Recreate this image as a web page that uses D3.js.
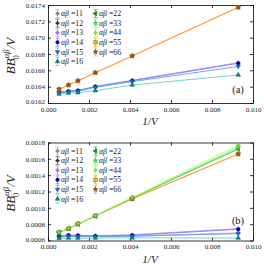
<!DOCTYPE html>
<html>
<head>
<meta charset="utf-8">
<script src="https://cdn.jsdelivr.net/npm/d3@7"></script>
<style>
  body { margin: 0; background: #fff; }
  svg { display: block; font-family: "Liberation Serif", "DejaVu Serif", serif; }
  .axis path, .axis line { stroke: #000; stroke-width: 0.8; }
  .axis text { font-size: 7px; fill: #222; font-family: "Liberation Serif", serif; }
</style>
</head>
<body>
<script>
// x values shared by every series
const invV = [0.00054, 0.001, 0.00146, 0.00231, 0.00411, 0.00928];

const labels = ["11", "12", "13", "14", "15", "16", "22", "33", "44", "55", "66"];

// panel (a) values
const a13 = [0.016334, 0.016346, 0.016355, 0.016404, 0.016479, 0.016694];
const a14 = [0.016331, 0.016343, 0.016351, 0.0164, 0.016473, 0.016686];
const a15 = [0.016325, 0.016336, 0.016344, 0.016392, 0.016462, 0.016648];
const a16 = [0.01631, 0.016322, 0.016326, 0.016351, 0.01642, 0.016543];
const a55 = [0.016368, 0.01642, 0.016471, 0.016571, 0.016776, 0.017372];
const a66 = [0.016368, 0.01642, 0.016471, 0.016571, 0.016776, 0.017372];

// panel (b) values
const b11 = [0.000644, 0.000655, 0.000652, 0.00065, 0.000656, 0.000692];
const b13 = [0.000655, 0.000668, 0.000665, 0.00066, 0.00067, 0.000745];
const b14 = [0.00065, 0.000664, 0.00066, 0.000655, 0.000664, 0.000737];
const b15 = [0.00064, 0.00065, 0.000648, 0.000647, 0.000652, 0.000684];
const b16 = [0.000627, 0.00063, 0.00063, 0.00063, 0.000632, 0.000631];
const b22 = [0.0007, 0.000748, 0.000803, 0.000902, 0.00112, 0.00172];
const b33 = [0.0007, 0.000749, 0.000804, 0.000904, 0.001122, 0.00174];
const b44 = [0.000702, 0.00075, 0.000806, 0.000906, 0.001126, 0.001769];
const b55 = [0.0007, 0.000745, 0.0008, 0.0009, 0.00111, 0.001659];
const b66 = [0.0007, 0.000745, 0.0008, 0.0009, 0.00111, 0.001659];

const xTicks = [0, 0.002, 0.004, 0.006, 0.008, 0.010];
const yTicksA = [0.0162, 0.0164, 0.0166, 0.0168, 0.0170, 0.0172, 0.0174];
const yTicksB = [0.0006, 0.0008, 0.0010, 0.0012, 0.0014, 0.0016, 0.0018];

// style per series
const styles = {
  "11": { line: "#aaaaaa", fill: "#888888", sym: "plus" },
  "12": { line: "#555555", fill: "#333333", sym: "plus" },
  "13": { line: "#b48cff", fill: "#cc66ff", sym: "plus" },
  "14": { line: "#7b7bff", fill: "#0000c8", sym: "circle" },
  "15": { line: "#5aa0e6", fill: "#1a6fd6", sym: "tridown" },
  "16": { line: "#66cccc", fill: "#008b8b", sym: "triup" },
  "22": { line: "#33bb33", fill: "#1a8c1a", sym: "trileft" },
  "33": { line: "#66ee66", fill: "#44ee44", sym: "star" },
  "44": { line: "#aaff55", fill: "#99ee44", sym: "plus" },
  "55": { line: "#f5a030", fill: "#f2c500", sym: "square" },
  "66": { line: "#ff9944", fill: "#b04a00", sym: "star" }
};

const W = 264, H = 267;
const svg = d3.select("body").append("svg").attr("width", W).attr("height", H);

function marker(g, key, x, y, s) {
  let st = styles[key];
  let path, rot = 0;
  if (st.sym == "circle") path = d3.symbol(d3.symbolCircle, s * s * 0.8)();
  else if (st.sym == "square") path = d3.symbol(d3.symbolSquare, s * s * 1.0)();
  else if (st.sym == "star") path = d3.symbol(d3.symbolStar, s * s * 0.6)();
  else if (st.sym == "plus") path = d3.symbol(d3.symbolCross, s * s * 0.5)();
  else {
    path = d3.symbol(d3.symbolTriangle, s * s * 0.7)();
    if (st.sym == "tridown") rot = 180;
    if (st.sym == "trileft") rot = -90;
  }
  g.append("path")
    .attr("d", path)
    .attr("transform", `translate(${x},${y}) rotate(${rot})`)
    .attr("fill", st.fill)
    .attr("stroke", key == "55" ? "#8b5a00" : d3.color(st.fill).darker(0.8))
    .attr("stroke-width", 0.5);
}

function panel(top, bottom, yDomain, yTicks, series, tag) {
  let left = 48, right = 253;
  let x = d3.scaleLinear().domain([0, 0.010]).range([left, right]);
  let y = d3.scaleLinear().domain(yDomain).range([bottom, top]);
  let g = svg.append("g");

  g.append("g").attr("class", "axis").attr("transform", `translate(0,${bottom})`)
    .call(d3.axisBottom(x).tickValues(xTicks).tickSizeInner(-3).tickSizeOuter(0).tickPadding(4).tickFormat(d3.format(".3f")));
  g.append("g").attr("class", "axis").attr("transform", `translate(0,${top})`)
    .call(d3.axisTop(x).tickValues(xTicks).tickSizeInner(-3).tickSizeOuter(0).tickFormat(""));
  g.append("g").attr("class", "axis").attr("transform", `translate(${left},0)`)
    .call(d3.axisLeft(y).tickValues(yTicks).tickSizeInner(-3).tickSizeOuter(0).tickPadding(3).tickFormat(d3.format(".4f")));
  g.append("g").attr("class", "axis").attr("transform", `translate(${right},0)`)
    .call(d3.axisRight(y).tickValues(yTicks).tickSizeInner(-3).tickSizeOuter(0).tickFormat(""));
  g.selectAll(".axis .domain").attr("stroke-width", 1);
  // keep lowest y label clear of the first x label
  g.selectAll(".axis text").filter(d => d === yDomain[0]).attr("dy", "0.1em");

  let line = d3.line().x((d, i) => x(invV[i])).y(d => y(d));
  series.forEach(([key, vals]) => {
    g.append("path").attr("d", line(vals)).attr("fill", "none")
      .attr("stroke", styles[key].line).attr("stroke-width", 0.9);
  });
  series.forEach(([key, vals]) => {
    vals.forEach((v, i) => marker(g, key, x(invV[i]), y(v), 3.6));
  });

  // legend
  let lg = g.append("g");
  labels.forEach((key, i) => {
    let col = i < 6 ? 0 : 1;
    let row = i < 6 ? i : i - 6;
    let mx = col == 0 ? 57.5 : 95.5;
    let my = top + 8.5 + row * 9.6;
    let c = styles[key].line;
    lg.append("line").attr("x1", mx).attr("x2", mx).attr("y1", my - 4).attr("y2", my + 4).attr("stroke", c).attr("stroke-width", 0.7);
    lg.append("line").attr("x1", mx - 2).attr("x2", mx + 2).attr("y1", my - 4).attr("y2", my - 4).attr("stroke", c).attr("stroke-width", 0.7);
    lg.append("line").attr("x1", mx - 2).attr("x2", mx + 2).attr("y1", my + 4).attr("y2", my + 4).attr("stroke", c).attr("stroke-width", 0.7);
    marker(lg, key, mx, my, 3.6);
    let t = lg.append("text").attr("x", mx + 3.5).attr("y", my + 2.6).attr("font-size", 7.8).attr("fill", "#222");
    t.append("tspan").attr("font-style", "italic").text("αβ");
    t.append("tspan").text(" =" + key);
  });

  // axis labels
  let yl = g.append("text")
    .attr("transform", `translate(15,${(top + bottom) / 2 + 2}) rotate(-90)`)
    .attr("text-anchor", "middle").attr("font-size", 13).attr("fill", "#222");
  yl.append("tspan").attr("font-style", "italic").text("BB");
  yl.append("tspan").attr("font-size", 8.5).attr("dy", -6).attr("font-style", "italic").text("αβ");
  yl.append("tspan").attr("font-size", 8.5).attr("dx", -10).attr("dy", 10).text("0");
  yl.append("tspan").attr("dx", 6).attr("dy", -4).attr("font-style", "italic").text("/V");

  g.append("text").attr("x", 150).attr("y", bottom + 22).attr("text-anchor", "middle")
    .attr("font-size", 11).attr("fill", "#222").attr("font-style", "italic").text("1/V");

  g.append("text").attr("x", 238).attr("y", tag == "(a)" ? bottom - 10 : bottom - 17)
    .attr("text-anchor", "middle").attr("font-size", 10.5).attr("fill", "#111").text(tag);
}

panel(5, 103, [0.0162, 0.0174], yTicksA,
  [["13", a13], ["14", a14], ["15", a15], ["16", a16], ["55", a55], ["66", a66]], "(a)");
panel(142.5, 240.5, [0.0006, 0.0018], yTicksB,
  [["11", b11], ["13", b13], ["14", b14], ["15", b15], ["16", b16], ["55", b55], ["66", b66], ["22", b22], ["33", b33], ["44", b44]], "(b)");
</script>
</body>
</html>
